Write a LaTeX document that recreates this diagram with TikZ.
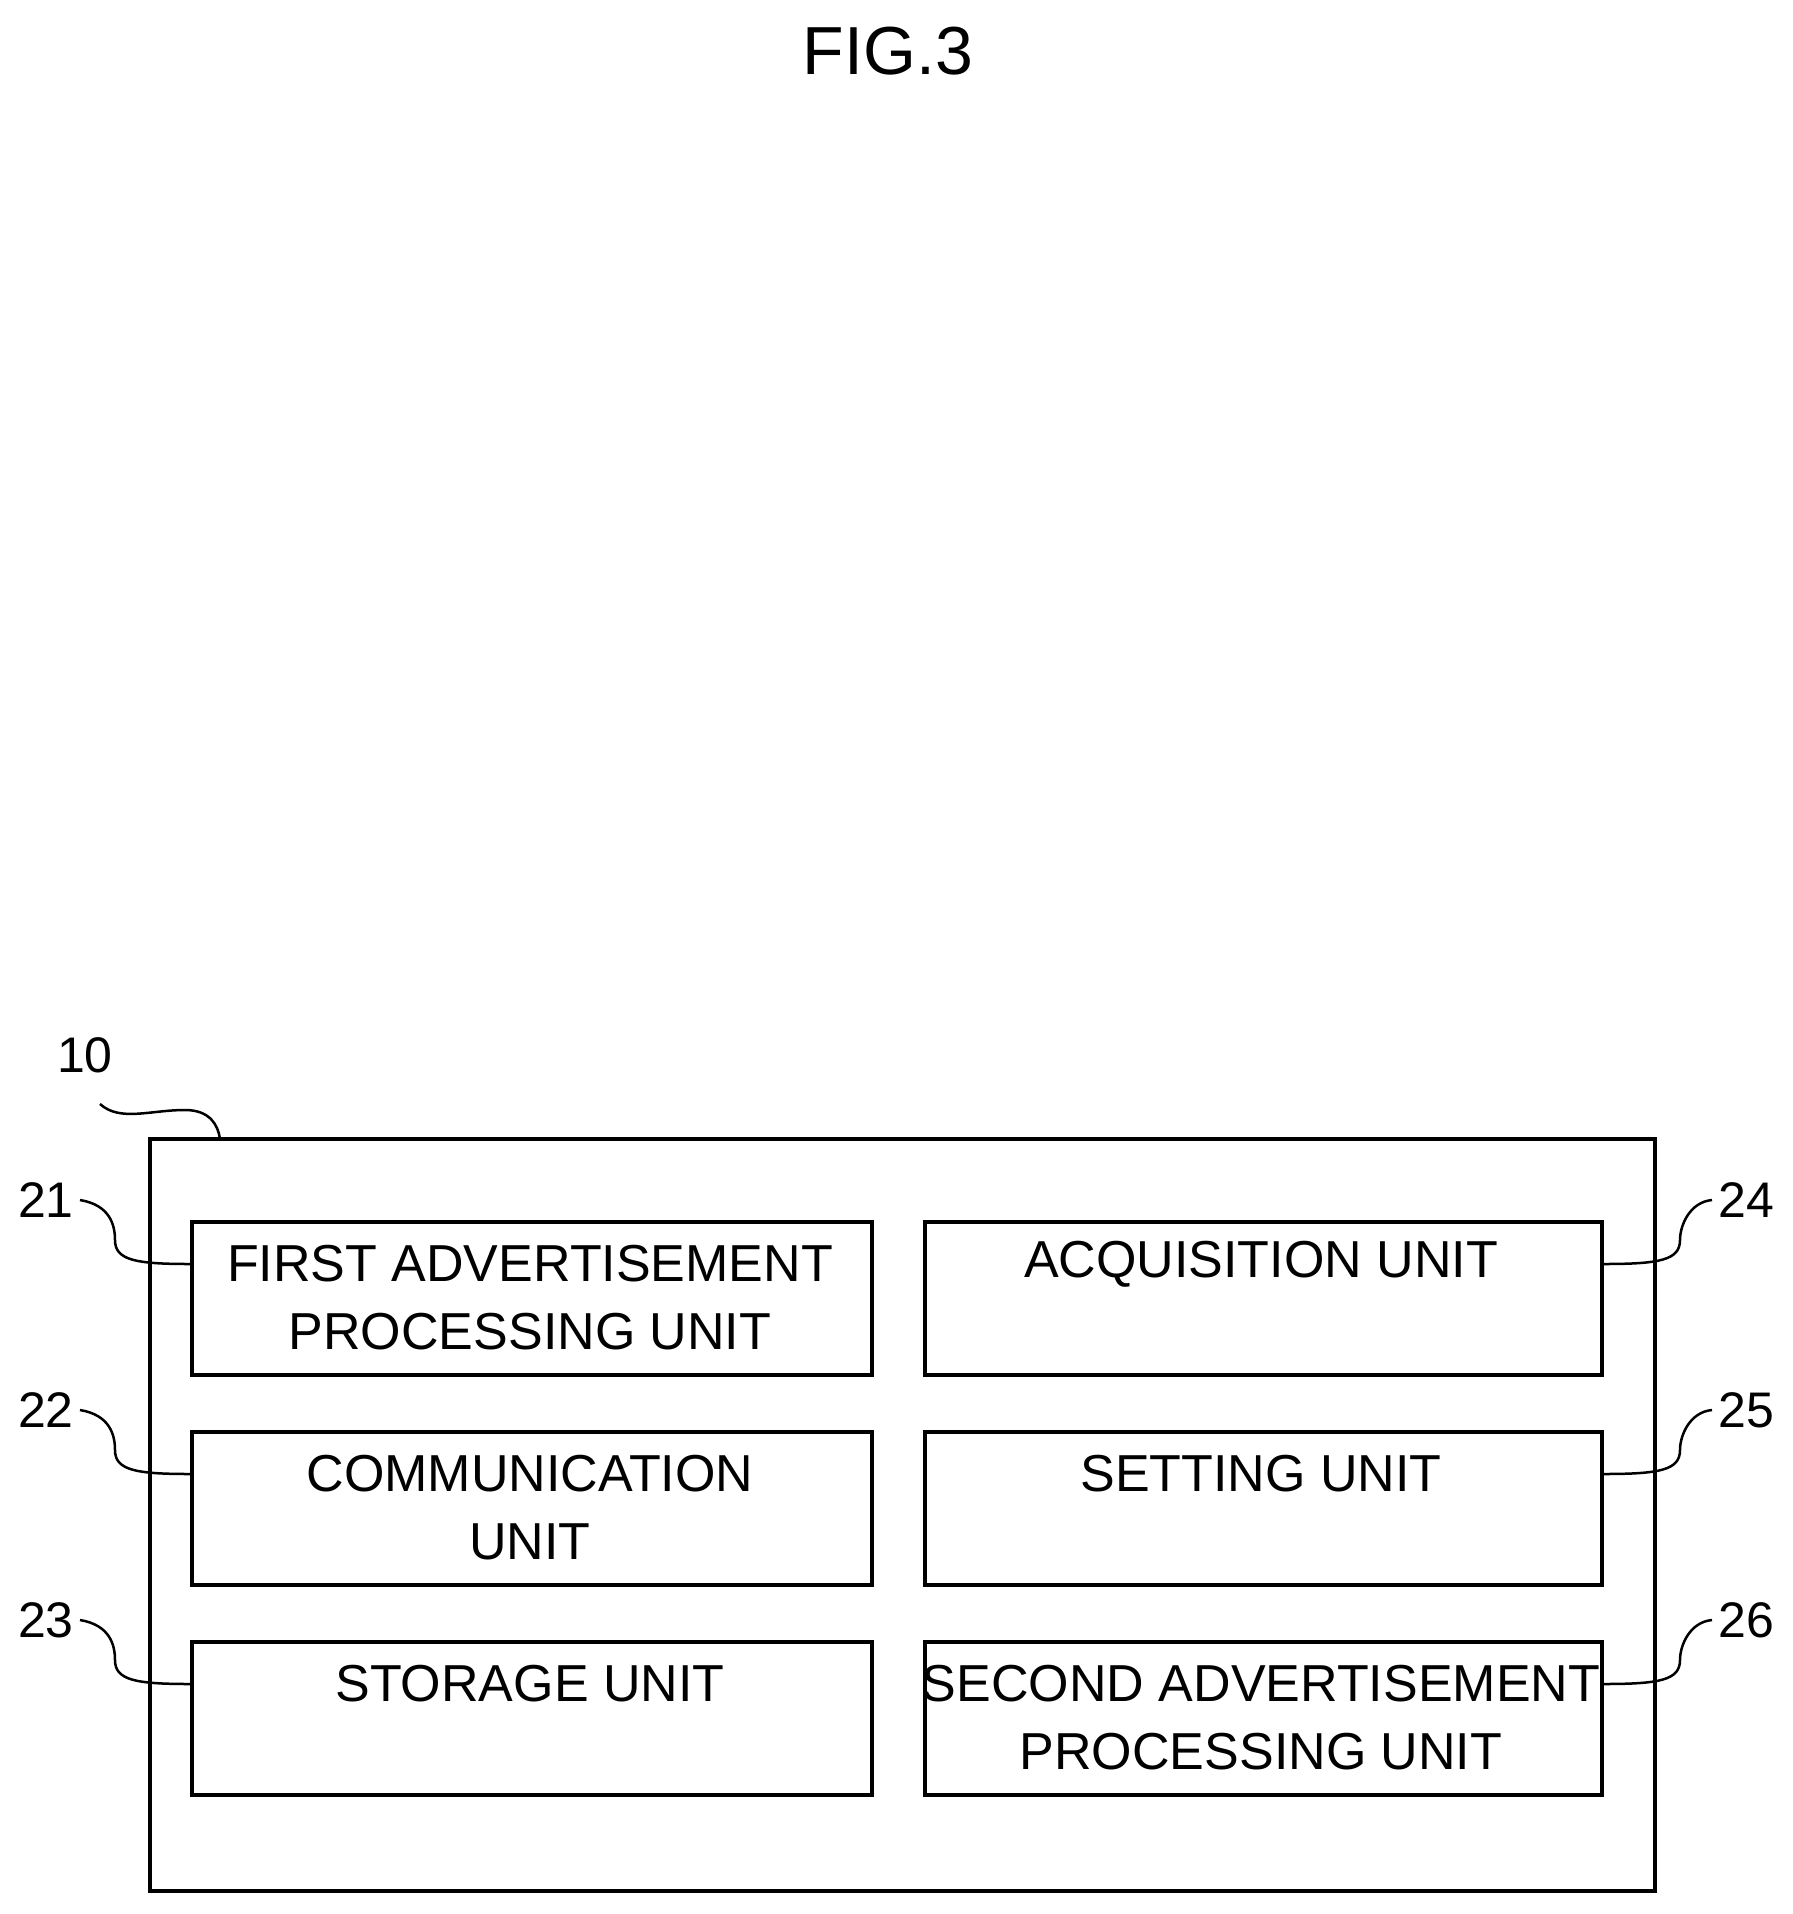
\documentclass[tikz,border=0pt]{standalone}
\usepackage{fontspec}
\setmainfont{Liberation Sans}
\begin{document}
\begin{tikzpicture}[x=1pt,y=-1pt,
  box/.style={draw,line width=3.5pt,minimum width=680pt,minimum height=153pt,anchor=north west,inner sep=0pt},
  lead/.style={line width=2.5pt},
  lbl/.style={font=\fontsize{52}{68}\selectfont,align=center},
  num/.style={font=\fontsize{50}{60}\selectfont}]
\useasboundingbox (0,0) rectangle (1793,1914);
\node[font=\fontsize{68}{80}\selectfont] (title) at (888,51) {FIG.3};
\draw[line width=3.5pt] (150,1139) rectangle (1655,1891);
\coordinate (outer) at (220,1139);
\node[num] (n10) at (85,1055) {10};
\draw[lead] (100,1104) .. controls (120,1122) and (150,1110) .. (185,1110) .. controls (210,1110) and (218,1125) .. (outer);
\node[box,minimum width=680pt] (b21) at (190,1220) {};
\node[box,minimum width=677pt] (b24) at (923,1220) {};
\node[box,minimum width=680pt] (b22) at (190,1430) {};
\node[box,minimum width=677pt] (b25) at (923,1430) {};
\node[box,minimum width=680pt] (b23) at (190,1640) {};
\node[box,minimum width=677pt] (b26) at (923,1640) {};
\node[lbl] (t21) at (530,1298) {FIRST ADVERTISEMENT\\PROCESSING UNIT};
\node[lbl] (t24) at (1261,1264) {ACQUISITION UNIT};
\node[lbl] (t22) at (530,1508) {COMMUNICATION\\UNIT};
\node[lbl] (t25) at (1261,1474) {SETTING UNIT};
\node[lbl] (t23) at (530,1684) {STORAGE UNIT};
\node[lbl] (t26) at (1261,1718) {SECOND ADVERTISEMENT\\PROCESSING UNIT};
\foreach \n/\y in {21/1220,22/1430,23/1640}{
  \node[num] (n\n) at (46,\y-20) {\n};
  \draw[lead] (80,\y-20) .. controls (110,\y-15) and (115,\y+5) .. (115,\y+20) .. controls (115,\y+40) and (135,\y+44) .. (b\n.west|-0,\y+44);
}
\foreach \n/\y in {24/1220,25/1430,26/1640}{
  \node[num] (n\n) at (1746,\y-20) {\n};
  \draw[lead] (b\n.east|-0,\y+44) .. controls (1660,\y+44) and (1680,\y+40) .. (1680,\y+20) .. controls (1680,\y+5) and (1690,\y-18) .. (1712,\y-20);
}
\end{tikzpicture}
\end{document}
